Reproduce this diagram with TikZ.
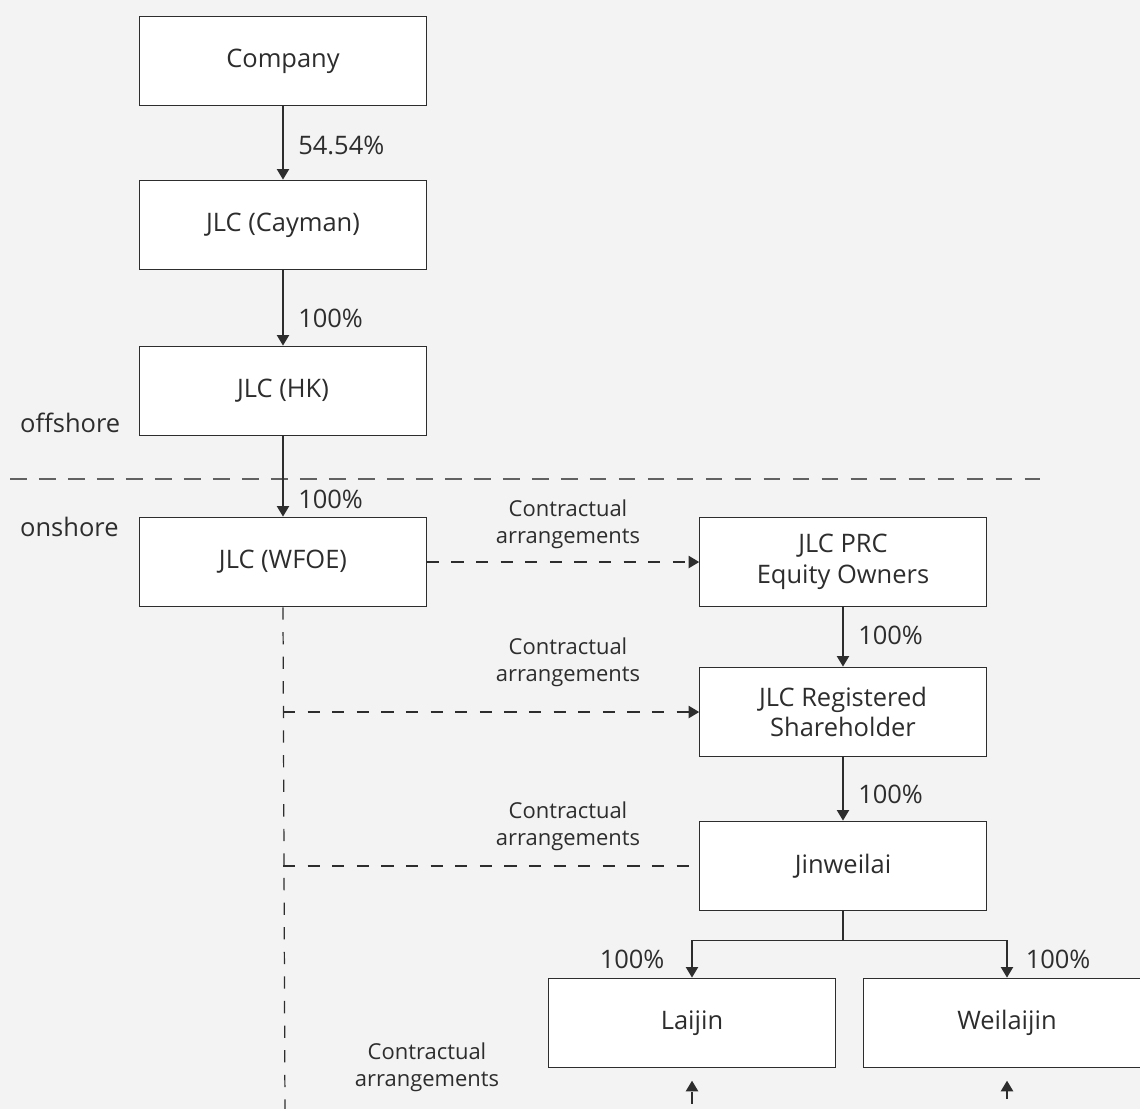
\documentclass[tikz,border=0pt]{standalone}
\usepackage{fontspec}
\setmainfont{Open Sans}
\usetikzlibrary{arrows.meta}

\definecolor{paper}{RGB}{243,243,243}
\definecolor{ink}{RGB}{45,45,45}

\begin{document}
\begin{tikzpicture}[x=0.02cm, y=-0.02cm,
    entity/.style={draw=ink, fill=white, line width=0.7pt, text=ink,
        minimum width=163pt, minimum height=51pt, align=center,
        font=\fontsize{14.5}{17.5}\selectfont},
    own/.style={draw=ink, line width=0.7pt, -{Triangle[length=6pt,width=7pt]}},
    contract/.style={draw=ink, line width=0.7pt, dash pattern=on 7pt off 7pt},
    tip/.style={-{Triangle[length=6pt,width=7pt]}},
    pct/.style={text=ink, font=\fontsize{14.5}{17.5}\selectfont},
    note/.style={text=ink, align=center, font=\fontsize{12.5}{15.5}\selectfont}]

    % BACKGROUND
    \fill[paper] (0,0) rectangle (1140,1109);
    \useasboundingbox (0,0) rectangle (1140,1109);

    % OFFSHORE / ONSHORE DIVIDE
    \draw[ink!75, line width=0.7pt, dash pattern=on 9.5pt off 7pt] (10,479) -- (1040,479);
    \node[pct, anchor=west] (offshore) at (14,423) {offshore};
    \node[pct, anchor=west] (onshore) at (14,527) {onshore};

    % ENTITIES
    \node[entity] (company) at (283,61) {Company};
    \node[entity] (cayman) at (283,225) {JLC (Cayman)};
    \node[entity] (hk) at (283,391) {JLC (HK)};
    \node[entity] (wfoe) at (283,562) {JLC (WFOE)};
    \node[entity] (equity) at (843,562) {JLC PRC\\Equity Owners};
    \node[entity] (registered) at (843,712) {JLC Registered\\Shareholder};
    \node[entity] (jinweilai) at (843,866) {Jinweilai};
    \node[entity] (laijin) at (692,1023) {Laijin};
    \node[entity] (weilaijin) at (1007,1023) {Weilaijin};

    % SHAREHOLDINGS
    \draw[own] (company) -- node[pct, right=5pt, pos=0.54] {54.54\%} (cayman);
    \draw[own] (cayman) -- node[pct, right=5pt, pos=0.64] {100\%} (hk);
    \draw[own] (hk) -- node[pct, right=5pt, pos=0.79] {100\%} (wfoe);
    \draw[own] (equity) -- node[pct, right=5pt, pos=0.48] {100\%} (registered);
    \draw[own] (registered) -- node[pct, right=5pt, pos=0.59] {100\%} (jinweilai);
    \draw[draw=ink, line width=0.7pt] (jinweilai.south) -- ++(0,29) coordinate (split);
    \draw[own] (split) -| node[pct, left=12pt, pos=0.75] {100\%} (laijin);
    \draw[own] (split) -| node[pct, right=7pt, pos=0.75] {100\%} (weilaijin);

    % CONTRACTUAL ARRANGEMENTS
    \coordinate (bus) at (285,1115);
    \draw[contract, tip] (wfoe) -- (equity);
    \draw[contract] (wfoe.south) -- (bus);
    \draw[contract, tip] (wfoe.south |- registered.west) -- (registered);
    \draw[contract] (wfoe.south |- jinweilai.west) -- (jinweilai);
    \draw[contract, tip, shorten >=7pt] (bus) -| (laijin);
    \draw[contract, tip, shorten >=7pt] (bus) -| (weilaijin);

    \node[note] (ca1) at (568,524) {Contractual\\arrangements};
    \node[note] (ca2) at (568,662) {Contractual\\arrangements};
    \node[note] (ca3) at (568,826) {Contractual\\arrangements};
    \node[note] (ca4) at (427,1067) {Contractual\\arrangements};

\end{tikzpicture}
\end{document}
